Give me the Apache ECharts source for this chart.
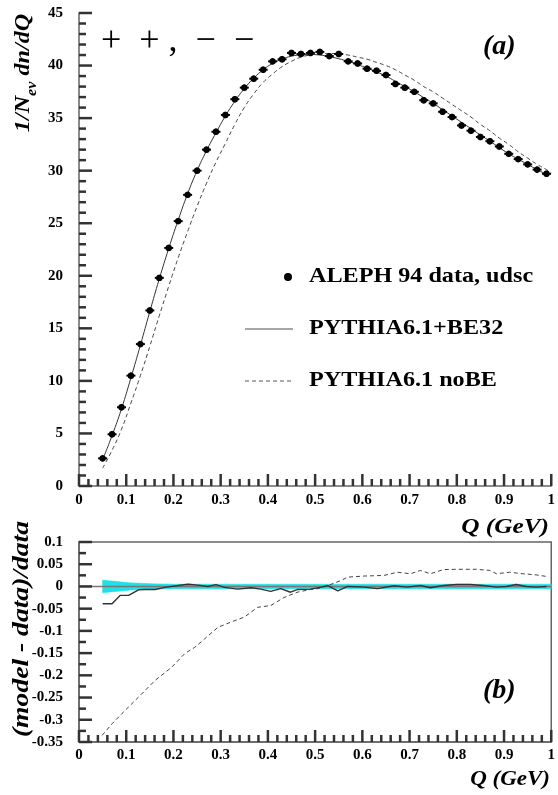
<!DOCTYPE html>
<html>
<head>
<meta charset="utf-8">
<script src="https://cdn.jsdelivr.net/npm/echarts@6/dist/echarts.min.js"></script>
<style>
html,body{margin:0;padding:0;background:#fff;}
#chart{width:558px;height:795px;}
</style>
</head>
<body>
<div id="chart"></div>
<script>
// ---------- DATA ----------
// ALEPH 94 data, udsc (Q in GeV, 1/N_ev dn/dQ)
const qData = [0.05,0.07,0.09,0.11,0.13,0.15,0.17,0.19,0.21,0.23,0.25,0.27,0.29,0.31,0.33,0.35,0.37,0.39,0.41,0.43,0.45,0.47,0.49,0.51,0.53,0.55,0.57,0.59,0.61,0.63,0.65,0.67,0.69,0.71,0.73,0.75,0.77,0.79,0.81,0.83,0.85,0.87,0.89,0.91,0.93,0.95,0.97,0.99];
const alephVals = [2.63,4.92,7.49,10.5,13.5,16.7,19.8,22.65,25.2,27.7,30.0,32.0,33.7,35.3,36.8,37.9,38.75,39.6,40.4,40.6,41.2,41.1,41.2,41.3,40.9,41.1,40.4,40.2,39.7,39.5,39.1,38.25,37.9,37.5,36.7,36.4,35.6,35.1,34.3,33.8,33.2,32.8,32.3,31.6,31.1,30.6,30.1,29.7];
const alephErr = [0.3,0.3,0.3,0.3,0.3,0.3,0.3,0.3,0.3,0.3,0.3,0.3,0.3,0.3,0.3,0.3,0.3,0.3,0.3,0.3,0.3,0.3,0.3,0.3,0.3,0.3,0.3,0.3,0.3,0.3,0.3,0.3,0.3,0.3,0.3,0.3,0.3,0.3,0.3,0.3,0.3,0.3,0.3,0.3,0.3,0.3,0.3,0.3];
// PYTHIA6.1+BE32
const qBE = [0.05,0.07,0.09,0.11,0.13,0.15,0.17,0.19,0.21,0.23,0.25,0.27,0.29,0.31,0.33,0.35,0.37,0.39,0.41,0.43,0.45,0.47,0.49,0.51,0.53,0.55,0.57,0.59,0.61,0.63,0.65,0.67,0.69,0.71,0.73,0.75,0.77,0.79,0.81,0.83,0.85,0.87,0.89,0.91,0.93,0.95,0.97,0.99];
const valBE = [2.5,4.8,7.35,10.3,13.4,16.6,19.7,22.6,25.3,27.8,30.0,31.9,33.6,35.2,36.6,37.8,38.8,39.6,40.2,40.6,40.9,41.0,41.05,41.0,40.85,40.65,40.4,40.1,39.75,39.4,39.0,38.5,38.0,37.5,36.95,36.4,35.8,35.2,34.6,34.0,33.4,32.8,32.2,31.6,31.1,30.6,30.1,29.65];
// PYTHIA6.1 noBE
const qNoBE = [0.05,0.07,0.09,0.11,0.13,0.15,0.17,0.19,0.21,0.23,0.25,0.27,0.29,0.31,0.33,0.35,0.37,0.39,0.41,0.43,0.45,0.47,0.49,0.51,0.53,0.55,0.57,0.59,0.61,0.63,0.65,0.67,0.69,0.71,0.73,0.75,0.77,0.79,0.81,0.83,0.85,0.87,0.89,0.91,0.93,0.95,0.97,0.99,1.0];
const valNoBE = [1.7,3.4,5.4,7.9,10.5,13.3,16.2,19.0,21.7,24.2,26.6,28.8,30.8,32.6,34.4,36.0,37.3,38.4,39.2,39.9,40.4,40.8,41.0,41.1,41.15,41.1,41.0,40.8,40.6,40.3,40.0,39.6,39.1,38.6,38.0,37.5,36.9,36.3,35.7,35.1,34.4,33.8,33.1,32.5,31.8,31.2,30.6,30.1,29.8];
// (model - data)/data
const qRatioBE = [0.05,0.07,0.0875,0.105,0.126,0.14,0.161,0.182,0.21,0.231,0.252,0.273,0.29,0.308,0.336,0.364,0.385,0.406,0.427,0.448,0.462,0.49,0.513,0.527,0.548,0.569,0.604,0.632,0.667,0.695,0.723,0.744,0.772,0.80,0.828,0.856,0.884,0.905,0.926,0.947,0.968,0.99];
const ratioBE = [-0.039,-0.039,-0.020,-0.020,-0.0075,-0.007,-0.007,-0.002,0.002,0.005,0.003,0.0,0.004,-0.002,-0.006,-0.003,-0.006,-0.011,-0.005,-0.013,-0.007,-0.006,-0.0015,0.002,-0.01,0.0,-0.0015,-0.005,0.0015,-0.0015,0.002,-0.003,0.002,0.0045,0.0045,0.002,-0.0015,0.0,0.0045,0.0,-0.0015,0.0];
const qRatioNoBE = [0.049,0.07,0.091,0.126,0.161,0.196,0.224,0.245,0.266,0.294,0.322,0.35,0.378,0.406,0.434,0.462,0.49,0.506,0.527,0.555,0.569,0.604,0.646,0.674,0.702,0.723,0.744,0.772,0.80,0.842,0.87,0.884,0.912,0.94,0.968,0.99];
const ratioNoBE = [-0.335,-0.309,-0.286,-0.249,-0.2115,-0.182,-0.151,-0.137,-0.118,-0.092,-0.080,-0.069,-0.047,-0.043,-0.025,-0.013,-0.007,-0.005,0.002,0.0135,0.021,0.0234,0.0248,0.032,0.0285,0.036,0.0285,0.038,0.0386,0.0386,0.036,0.0285,0.032,0.0285,0.026,0.0225];
// relative data error band (half width)
const qBand = [0.05,0.07,0.09,0.11,0.13,0.15,0.2,0.3,0.4,0.5,0.6,0.7,0.8,0.9,1.0];
const bandHalf = [0.014,0.012,0.010,0.008,0.007,0.006,0.005,0.005,0.005,0.005,0.005,0.005,0.005,0.005,0.005];
// zero reference line of lower panel
const qZero = [0, 1];
const zeroVals = [0, 0];
// axis ticks
const xTicks = {min:0, max:1, interval:0.1, minorSplit:5};
const yTopTicks = {min:0, max:45, interval:5, minorSplit:5};
const yBotTicks = {min:-0.35, max:0.1, interval:0.05, minorSplit:2};

// ---------- CHART ----------
const chart = echarts.init(document.getElementById('chart'), null, {renderer:'canvas'});
const SERIF = '"Liberation Serif", "Times New Roman", serif';
const axisColor = '#666';
const tickColor = '#333';

function xAxisCfg(gridIndex, margin){
  return {
    type:'value', gridIndex, min:xTicks.min, max:xTicks.max, interval:xTicks.interval,
    axisLine:{show:true, onZero:false, lineStyle:{color:axisColor, width:1.5}},
    axisTick:{show:false}, minorTick:{show:false},
    axisLabel:{margin, fontFamily:SERIF, fontWeight:'bold', fontSize:15, color:'#000'},
    splitLine:{show:false}, minorSplitLine:{show:false}
  };
}
function yAxisCfg(gridIndex, t){
  return {
    type:'value', gridIndex, min:t.min, max:t.max, interval:t.interval,
    axisLine:{show:true, onZero:false, lineStyle:{color:axisColor, width:1.5}},
    axisTick:{show:false}, minorTick:{show:false},
    axisLabel:{margin:16, fontFamily:SERIF, fontWeight:'bold', fontSize:15, color:'#000'},
    splitLine:{show:false}, minorSplitLine:{show:false}
  };
}

// tick positions (major + minor) along an axis
function tickList(t){
  const out = [];
  const step = t.interval / t.minorSplit;
  const n = Math.round((t.max - t.min) / step);
  for (let i = 0; i <= n; i++) {
    out.push([+(t.min + i*step).toFixed(6), i % t.minorSplit === 0]);
  }
  return out;
}
function xTickSeries(gi, yMin){
  return {type:'scatter', xAxisIndex:gi, yAxisIndex:gi, clip:false, silent:true, z:6, symbol:'rect',
    itemStyle:{color:tickColor, opacity:1},
    data: tickList(xTicks).map(d=>{
      const len = d[1] ? 12 : 7;
      return {value:[d[0], yMin], symbolSize:[2.5, len], symbolOffset:[0, -len/2]};
    })};
}
function yTickSeries(gi, t){
  return {type:'scatter', xAxisIndex:gi, yAxisIndex:gi, clip:false, silent:true, z:6, symbol:'rect',
    itemStyle:{color:tickColor, opacity:1},
    data: tickList(t).map(d=>{
      const len = d[1] ? 13 : 7;
      return {value:[xTicks.min, d[0]], symbolSize:[len, 2.5], symbolOffset:[len/2, 0]};
    })};
}

const pairs = (xs, ys) => xs.map((x,i)=>[x, ys[i]]);
const bandSegs = qBand.slice(0, -1).map((q,i)=>[q, qBand[i+1], -bandHalf[i], bandHalf[i], -bandHalf[i+1], bandHalf[i+1]]);

const option = {
  animation:false,
  backgroundColor:'#fff',
  grid:[
    {left:79, right:3, top:13, height:473, show:false},
    {left:79, right:3, top:542, height:200, show:true, borderColor:axisColor, borderWidth:1.5, backgroundColor:'transparent'}
  ],
  xAxis:[ xAxisCfg(0, 7), xAxisCfg(1, 6) ],
  yAxis:[
    yAxisCfg(0, yTopTicks),
    yAxisCfg(1, yBotTicks),
    {type:'value', gridIndex:0, position:'right', min:0, max:45,
     axisLine:{show:true, lineStyle:{color:'#888', width:1.5}}, axisTick:{show:false}, axisLabel:{show:false}, splitLine:{show:false}}
  ],
  series:[
    xTickSeries(0, yTopTicks.min),
    yTickSeries(0, yTopTicks),
    xTickSeries(1, yBotTicks.min),
    yTickSeries(1, yBotTicks),
    {type:'line', name:'PYTHIA6.1 noBE', xAxisIndex:0, yAxisIndex:0, data:pairs(qNoBE, valNoBE),
     showSymbol:false, smooth:true, lineStyle:{color:'#444', width:1, type:[4,3]}, z:2},
    {type:'line', name:'PYTHIA6.1+BE32', xAxisIndex:0, yAxisIndex:0, data:pairs(qBE, valBE),
     showSymbol:false, smooth:true, lineStyle:{color:'#333', width:1}, z:2},
    {type:'custom', name:'ALEPH 94 data, udsc', xAxisIndex:0, yAxisIndex:0,
     data: qData.map((q,i)=>[q, alephVals[i], alephErr[i]]),
     encode:{x:0, y:1},
     renderItem:function(params, api){
       const q = api.value(0), v = api.value(1), e = api.value(2);
       const c = api.coord([q, v]);
       const l = api.coord([q-0.0095, v]), r = api.coord([q+0.0095, v]);
       const t = api.coord([q, v+e]), b = api.coord([q, v-e]);
       return {type:'group', children:[
         {type:'line', shape:{x1:l[0], y1:c[1], x2:r[0], y2:c[1]}, style:{stroke:'#000', lineWidth:2}},
         {type:'line', shape:{x1:c[0], y1:t[1], x2:c[0], y2:b[1]}, style:{stroke:'#000', lineWidth:2}},
         {type:'circle', shape:{cx:c[0], cy:c[1], r:3.2}, style:{fill:'#000'}}
       ]};
     }, z:5},
    // bottom panel: data error band
    {type:'custom', name:'data error', xAxisIndex:1, yAxisIndex:1, data:bandSegs,
     encode:{x:[0,1], y:[2,3,4,5]}, z:1, silent:true,
     renderItem:function(params, api){
       const q0 = api.value(0), q1 = api.value(1);
       const pts = [api.coord([q0, api.value(3)]), api.coord([q1, api.value(5)]),
                    api.coord([q1, api.value(4)]), api.coord([q0, api.value(2)])];
       return {type:'polygon', shape:{points:pts}, style:{fill:'#1fe0e6', stroke:'#1fe0e6', lineWidth:0.6}};
     }},
    {type:'line', name:'zero', xAxisIndex:1, yAxisIndex:1, data:pairs(qZero, zeroVals),
     showSymbol:false, silent:true, lineStyle:{color:'#777', width:1.5}, z:2},
    {type:'line', name:'ratio noBE', xAxisIndex:1, yAxisIndex:1, data:pairs(qRatioNoBE, ratioNoBE),
     showSymbol:false, lineStyle:{color:'#444', width:1, type:[4,3]}, z:3},
    {type:'line', name:'ratio BE32', xAxisIndex:1, yAxisIndex:1, data:pairs(qRatioBE, ratioBE),
     showSymbol:false, lineStyle:{color:'#333', width:1.4}, z:3}
  ],
  graphic:[
    {type:'text', x:101, y:42, style:{text:'+  + ,  −  −', font:'36px '+SERIF, fill:'#000', verticalAlign:'middle'}},
    {type:'text', x:483, y:47, style:{text:'(a)', font:'italic bold 28px '+SERIF, fill:'#000', verticalAlign:'middle'}},
    {type:'text', x:483, y:691, style:{text:'(b)', font:'italic bold 28px '+SERIF, fill:'#000', verticalAlign:'middle'}},
    {type:'text', x:549, y:527, scaleX:1.15, style:{text:'Q (GeV)', font:'italic bold 22px '+SERIF, fill:'#000', align:'right', verticalAlign:'middle'}},
    {type:'text', x:550, y:780, scaleX:1.15, style:{text:'Q (GeV)', font:'italic bold 20px '+SERIF, fill:'#000', align:'right', verticalAlign:'middle'}},
    {type:'text', x:22, y:73, rotation:Math.PI/2, scaleX:1.15,
     style:{text:'{m|1/N}{s|ev}{m| dn/dQ}', align:'center', verticalAlign:'middle',
       rich:{m:{font:'italic bold 21px '+SERIF, fill:'#000', lineHeight:24, verticalAlign:'bottom'},
             s:{font:'italic bold 14px '+SERIF, fill:'#000', lineHeight:24, verticalAlign:'bottom', padding:[0,0,-5,0]}}}},
    {type:'text', x:22, y:629, rotation:Math.PI/2, scaleX:1.2,
     style:{text:'(model - data)/data', font:'italic bold 23px '+SERIF, fill:'#000', align:'center', verticalAlign:'middle'}},
    {type:'circle', shape:{cx:288, cy:277, r:4}, style:{fill:'#000'}},
    {type:'text', x:309, y:277, scaleX:1.15, style:{text:'ALEPH 94 data, udsc', font:'bold 21px '+SERIF, fill:'#000', verticalAlign:'middle'}},
    {type:'line', shape:{x1:245, y1:329, x2:293, y2:329}, style:{stroke:'#888', lineWidth:1.3}},
    {type:'text', x:309, y:329, scaleX:1.15, style:{text:'PYTHIA6.1+BE32', font:'bold 21px '+SERIF, fill:'#000', verticalAlign:'middle'}},
    {type:'line', shape:{x1:245, y1:381, x2:293, y2:381}, style:{stroke:'#555', lineWidth:1, lineDash:[4,3]}},
    {type:'text', x:309, y:381, scaleX:1.15, style:{text:'PYTHIA6.1 noBE', font:'bold 21px '+SERIF, fill:'#000', verticalAlign:'middle'}}
  ]
};
chart.setOption(option);
</script>
</body>
</html>
